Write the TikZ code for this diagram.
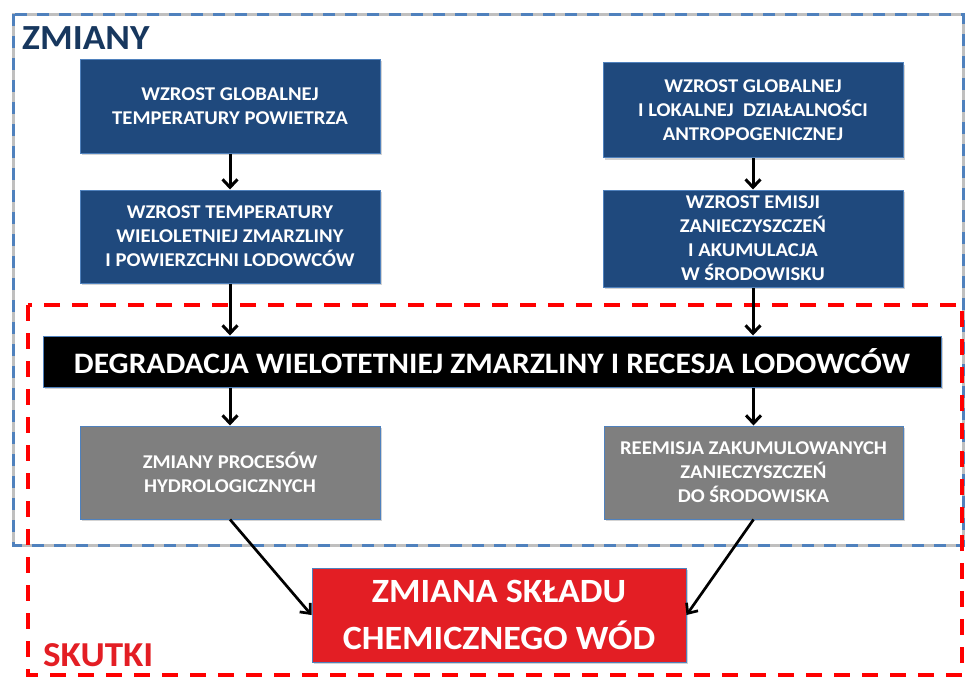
\documentclass[tikz,border=0pt]{standalone}
\usepackage{fontspec}
\setmainfont[FakeStretch=1.06]{Carlito}
\usetikzlibrary{arrows.meta,shadows}
\definecolor{boxblue}{HTML}{1F497D}
\definecolor{edgeblue}{HTML}{4F81BD}
\definecolor{titleblue}{HTML}{17375E}
\definecolor{alarmred}{HTML}{E31E24}
\definecolor{framered}{HTML}{FF0000}
\definecolor{boxgray}{HTML}{7F7F7F}
\definecolor{shadegray}{HTML}{BFBFBF}
\begin{document}
\begin{tikzpicture}[x=1pt,y=-1pt,
  base/.style={draw=edgeblue, line width=1pt, text=white, align=center, inner sep=0pt,
    drop shadow={shadow xshift=2pt,shadow yshift=-2pt,opacity=0.35}},
  bluebox/.style={base, fill=boxblue, font=\bfseries\fontsize{19.5}{24}\selectfont},
  graybox/.style={base, fill=boxgray, font=\bfseries\fontsize{19.5}{24}\selectfont},
  blackbox/.style={base, fill=black, font=\bfseries\fontsize{29.7}{32}\selectfont},
  redbox/.style={base, fill=alarmred, font=\bfseries\fontsize{34}{47}\selectfont},
  arr/.style={line width=3pt, -{Straight Barb[length=8pt,width=15pt,line width=3pt]}},
  darr/.style={line width=2.7pt, -{Straight Barb[length=8pt,width=14pt,line width=2.7pt]}},
  label/.style={anchor=base west, inner sep=0pt}
]
\useasboundingbox (0,0) rectangle (968,680);
% frames
\draw[shadegray, line width=3pt] (13,14) rectangle (963,545);
\draw[edgeblue, line width=3pt, dash pattern=on 12pt off 10pt] (13,14) rectangle (963,545);
\draw[framered, line width=4pt, dash pattern=on 16pt off 12pt] (28,305) rectangle (962,675);
\node[label, text=titleblue, font=\bfseries\fontsize{35.3}{38}\selectfont] (zm) at (22,49) {ZMIANY};
\node[label, text=alarmred, font=\bfseries\fontsize{35}{38}\selectfont] (sk) at (43,666) {SKUTKI};
% boxes
\node[bluebox, minimum width=300pt, minimum height=94pt] (b1) at (230,106)
  {WZROST GLOBALNEJ\\TEMPERATURY POWIETRZA};
\node[bluebox, minimum width=300pt, minimum height=93pt] (b2) at (230,236.5)
  {WZROST TEMPERATURY\\WIELOLETNIEJ ZMARZLINY\\I POWIERZCHNI LODOWCÓW};
\node[bluebox, minimum width=300pt, minimum height=95pt] (r1) at (753,110)
  {WZROST GLOBALNEJ\\I LOKALNEJ\ \ DZIAŁALNOŚCI\\ANTROPOGENICZNEJ};
\node[bluebox, minimum width=300pt, minimum height=97pt] (r2) at (753,238.5)
  {WZROST EMISJI\\ZANIECZYSZCZEŃ\\I AKUMULACJA\\W ŚRODOWISKU};
\node[blackbox, minimum width=898pt, minimum height=51pt] (blk) at (492,361.5)
  {DEGRADACJA WIELOTETNIEJ ZMARZLINY I RECESJA LODOWCÓW};
\node[graybox, minimum width=300pt, minimum height=93pt] (g1) at (230,472.5)
  {ZMIANY PROCESÓW\\HYDROLOGICZNYCH};
\node[graybox, minimum width=299pt, minimum height=93pt] (g2) at (753.5,472.5)
  {REEMISJA ZAKUMULOWANYCH\\ZANIECZYSZCZEŃ\\DO ŚRODOWISKA};
\node[redbox, minimum width=374pt, minimum height=94pt] (red) at (499,615)
  {ZMIANA SKŁADU\\CHEMICZNEGO WÓD};
% connectors
\draw[arr] (b1.south) -- (b2.north);
\draw[arr] (r1.south) -- (r1.south |- r2.north);
\draw[arr] (b2.south) -- (b2.south |- blk.north);
\draw[arr] (r2.south) -- (r2.south |- blk.north);
\draw[arr] (blk.south -| g1.north) -- (g1.north);
\draw[arr] (blk.south -| g2.north) -- (g2.north);
\draw[darr] (g1.south) -- (red.west);
\draw[darr] (g2.south) -- (red.east);
\end{tikzpicture}
\end{document}
